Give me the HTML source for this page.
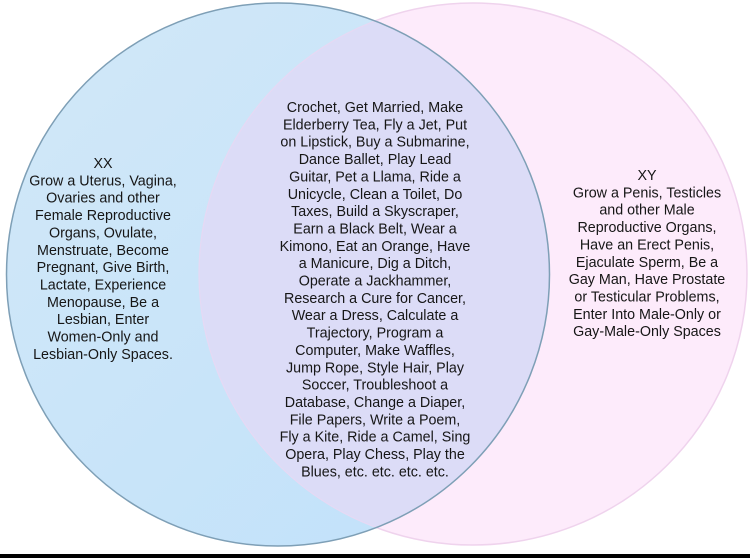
<!DOCTYPE html>
<html>
<head>
<meta charset="utf-8">
<style>
  html, body { margin: 0; padding: 0; background: #ffffff; }
  body { width: 750px; height: 558px; overflow: hidden; }
  svg { display: block; }
  text { font-family: "Liberation Sans", Arial, sans-serif; font-size: 14.3px; fill: #161616; }
</style>
</head>
<body>
<svg width="750" height="558" viewBox="0 0 750 558" xmlns="http://www.w3.org/2000/svg">
  <defs>
    <linearGradient id="gb" x1="0" y1="0" x2="1" y2="1">
      <stop offset="0" stop-color="#d2e8f8"/>
      <stop offset="1" stop-color="#c0e1fa"/>
    </linearGradient>
    <clipPath id="leftClip">
      <circle cx="278" cy="274.5" r="271.5"/>
    </clipPath>
  </defs>
  <rect x="0" y="0" width="750" height="558" fill="#ffffff"/>

  <!-- right (pink) circle -->
  <ellipse cx="473" cy="274" rx="274" ry="271" fill="#fdebfb" stroke="#efd3ed" stroke-width="1.5"/>
  <!-- left (blue) circle -->
  <circle cx="278" cy="274.5" r="271.5" fill="url(#gb)"/>
  <!-- overlap -->
  <ellipse cx="473" cy="274" rx="274" ry="271" fill="#dcdcf7" clip-path="url(#leftClip)"/>
  <ellipse cx="473" cy="274" rx="274" ry="271" fill="none" stroke="#e6d9f4" stroke-width="1.2" clip-path="url(#leftClip)"/>
  <!-- left circle stroke -->
  <circle cx="278" cy="274.5" r="271.5" fill="none" stroke="#7e9fb6" stroke-width="1.5"/>

  <!-- bottom black bar -->
  <rect x="0" y="554" width="750" height="4" fill="#000000"/>

  <!-- left text -->
  <g text-anchor="middle">
    <text x="103" y="168">XX</text>
    <text x="103" y="185.35">Grow a Uterus, Vagina,</text>
    <text x="103" y="202.7">Ovaries and other</text>
    <text x="103" y="220.05">Female Reproductive</text>
    <text x="103" y="237.4">Organs, Ovulate,</text>
    <text x="103" y="254.75">Menstruate, Become</text>
    <text x="103" y="272.1">Pregnant, Give Birth,</text>
    <text x="103" y="289.45">Lactate, Experience</text>
    <text x="103" y="306.8">Menopause, Be a</text>
    <text x="103" y="324.15">Lesbian, Enter</text>
    <text x="103" y="341.5">Women-Only and</text>
    <text x="103" y="358.85">Lesbian-Only Spaces.</text>
  </g>

  <!-- center text -->
  <g text-anchor="middle">
    <text x="375" y="112">Crochet, Get Married, Make</text>
    <text x="375" y="129.35">Elderberry Tea, Fly a Jet, Put</text>
    <text x="375" y="146.7">on Lipstick, Buy a Submarine,</text>
    <text x="375" y="164.05">Dance Ballet, Play Lead</text>
    <text x="375" y="181.4">Guitar, Pet a Llama, Ride a</text>
    <text x="375" y="198.75">Unicycle, Clean a Toilet, Do</text>
    <text x="375" y="216.1">Taxes, Build a Skyscraper,</text>
    <text x="375" y="233.45">Earn a Black Belt, Wear a</text>
    <text x="375" y="250.8">Kimono, Eat an Orange, Have</text>
    <text x="375" y="268.15">a Manicure, Dig a Ditch,</text>
    <text x="375" y="285.5">Operate a Jackhammer,</text>
    <text x="375" y="302.85">Research a Cure for Cancer,</text>
    <text x="375" y="320.2">Wear a Dress, Calculate a</text>
    <text x="375" y="337.55">Trajectory, Program a</text>
    <text x="375" y="354.9">Computer, Make Waffles,</text>
    <text x="375" y="372.25">Jump Rope, Style Hair, Play</text>
    <text x="375" y="389.6">Soccer, Troubleshoot a</text>
    <text x="375" y="406.95">Database, Change a Diaper,</text>
    <text x="375" y="424.3">File Papers, Write a Poem,</text>
    <text x="375" y="441.65">Fly a Kite, Ride a Camel, Sing</text>
    <text x="375" y="459">Opera, Play Chess, Play the</text>
    <text x="375" y="476.35">Blues, etc. etc. etc. etc.</text>
  </g>

  <!-- right text -->
  <g text-anchor="middle">
    <text x="647" y="180">XY</text>
    <text x="647" y="197.35">Grow a Penis, Testicles</text>
    <text x="647" y="214.7">and other Male</text>
    <text x="647" y="232.05">Reproductive Organs,</text>
    <text x="647" y="249.4">Have an Erect Penis,</text>
    <text x="647" y="266.75">Ejaculate Sperm, Be a</text>
    <text x="647" y="284.1">Gay Man, Have Prostate</text>
    <text x="647" y="301.45">or Testicular Problems,</text>
    <text x="647" y="318.8">Enter Into Male-Only or</text>
    <text x="647" y="336.15">Gay-Male-Only Spaces</text>
  </g>
</svg>
</body>
</html>
